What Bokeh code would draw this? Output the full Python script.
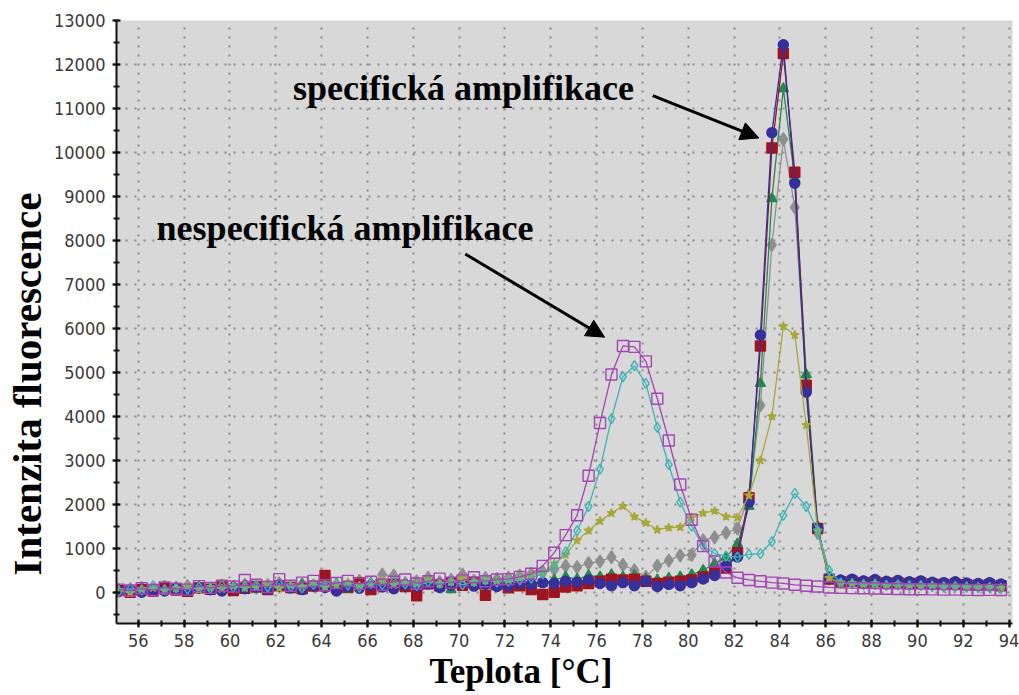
from bokeh.plotting import figure
from bokeh.models import Range1d, SingleIntervalTicker, Label, Arrow, NormalHead, Title
from bokeh.embed import file_html
from bokeh.resources import INLINE

# Melting-curve samples (temperature, °C)
temps = [
    55.15, 55.65, 56.15, 56.65, 57.15, 57.65, 58.15, 58.65, 59.15, 59.65,
    60.15, 60.65, 61.15, 61.65, 62.15, 62.65, 63.15, 63.65, 64.15, 64.65,
    65.15, 65.65, 66.15, 66.65, 67.15, 67.65, 68.15, 68.65, 69.15, 69.65,
    70.15, 70.65, 71.15, 71.65, 72.15, 72.65, 73.15, 73.65, 74.15, 74.65,
    75.15, 75.65, 76.15, 76.65, 77.15, 77.65, 78.15, 78.65, 79.15, 79.65,
    80.15, 80.65, 81.15, 81.65, 82.15, 82.65, 83.15, 83.65, 84.15, 84.65,
    85.15, 85.65, 86.15, 86.65, 87.15, 87.65, 88.15, 88.65, 89.15, 89.65,
    90.15, 90.65, 91.15, 91.65, 92.15, 92.65, 93.15, 93.65,
]

# Fluorescence per sample (-dF/dT)
purple = [
    60, 40, 90, 50, 110, 80, 60, 140, 100, 150,
    130, 280, 170, 120, 300, 150, 220, 260, 160, 210,
    260, 190, 240, 170, 240, 290, 200, 250, 310, 220,
    270, 340, 250, 290, 300, 350, 420, 600, 900, 1300,
    1750, 2650, 3850, 4950, 5600, 5580, 5250, 4400, 3450, 2450,
    1650, 1050, 700, 450, 330, 280, 250, 220, 200, 170,
    150, 130, 110, 100, 95, 90, 85, 80, 75, 70,
    70, 65, 60, 60, 55, 50, 55, 50,
]
cyan = [
    20, 80, 50, 150, 60, 100, 70, 120, 90, 160,
    110, 140, 170, 120, 190, 130, 100, 180, 150, 210,
    160, 110, 200, 170, 240, 190, 150, 230, 200, 260,
    170, 240, 280, 230, 250, 280, 320, 420, 600, 920,
    1400, 1950, 2800, 3950, 4900, 5150, 4750, 3750, 2900, 2050,
    1500, 1050, 880, 820, 800, 860, 880, 1150, 1750, 2250,
    1950, 1400, 500, 210, 190, 170, 180, 150, 160, 140,
    150, 130, 120, 130, 110, 100, 110, 90,
]
olive = [
    50, -20, 70, 100, 40, 90, 130, 60, 110, 80,
    150, 100, 120, 190, 90, 160, 130, 200, 110, 170,
    230, 150, 190, 260, 170, 220, 200, 280, 190, 240,
    300, 230, 270, 260, 280, 320, 380, 450, 650, 850,
    1180, 1400, 1620, 1800, 1960, 1720, 1580, 1420, 1470, 1480,
    1700, 1800, 1850, 1720, 1700, 2200, 3000, 4000, 6050, 5850,
    3800, 1400, 320, 220, 210, 190, 200, 170, 180, 160,
    150, 160, 140, 130, 140, 120, 110, 100,
]
gray = [
    30, 70, 100, 60, 120, 90, 140, 110, 80, 150,
    120, 170, 100, 160, 200, 130, 180, 150, 230, 170,
    140, 260, 190, 400, 380, 210, 250, 330, 230, 280,
    400, 260, 320, 300, 330, 380, 420, 470, 520, 600,
    570, 660, 700, 800, 620, 500, 350, 600, 720, 840,
    850, 1180, 1250, 1350, 1450, 2200, 4250, 7900, 10300, 8750,
    4800, 1350, 300, 240, 260, 220, 240, 210, 230, 200,
    210, 190, 180, 190, 170, 160, 150, 140,
]
green = [
    60, 20, 90, 40, 70, 110, 50, 130, 90, 60,
    140, 100, 70, 150, 120, 90, 170, 130, 100, 180,
    60, 150, 200, 140, 110, 190, 160, 210, 130, 60,
    220, 180, 150, 240, 200, 150, 250, 200, 280, 350,
    300, 380, 350, 400, 350, 380, 300, 280, 320, 350,
    400, 500, 650, 800, 1100, 1950, 4750, 8950, 11450, 9400,
    4950, 1500, 330, 260, 270, 240, 250, 220, 240, 210,
    220, 200, 190, 200, 180, 170, 180, 160,
]
red = [
    40, 0, 60, 30, 90, 50, 20, 100, 70, 120,
    40, 90, 130, 60, 150, 110, 80, 140, 380, 100,
    120, 210, 60, 150, 180, 130, -80, 190, 150, 210,
    160, 230, -70, 180, 100, 150, 60, -50, 0, 120,
    150, 200, 250, 300, 280, 300, 250, 200, 230, 250,
    280, 350, 450, 550, 900, 2150, 5600, 10100, 12250, 9550,
    4700, 1450, 300, 240, 250, 220, 240, 210, 220, 200,
    210, 190, 180, 190, 170, 160, 170, 150,
]
blue = [
    20, 50, 0, 60, 30, 80, 40, 100, 60, 30,
    110, 80, 120, 70, 140, 100, 60, 150, 110, 30,
    130, 90, 160, 120, 80, 170, 140, 190, 110, 160,
    200, 140, 180, 130, 150, 200, 180, 220, 200, 250,
    230, 280, 200, 150, 220, 150, 250, 130, 180, 150,
    220, 300, 380, 600, 800, 2050, 5850, 10450, 12450, 9300,
    4550, 1450, 320, 280, 300, 260, 290, 250, 270, 240,
    260, 230, 220, 240, 210, 200, 220, 190,
]

x_ticks_step = 2
y_ticks_step = 1000

p = figure(
    width=1019, height=695,
    output_backend="svg", toolbar_location=None,
    x_range=Range1d(55.05, 94.15), y_range=Range1d(-710, 13000),
    min_border_left=112, min_border_right=7,
    min_border_top=20, min_border_bottom=72,
)
p.background_fill_color = "#d8d8d8"
p.border_fill_color = "white"
p.outline_line_color = None

p.xaxis.ticker = SingleIntervalTicker(interval=x_ticks_step, num_minor_ticks=2)
p.yaxis.ticker = SingleIntervalTicker(interval=y_ticks_step, num_minor_ticks=2)
p.xgrid.ticker = p.xaxis.ticker
p.ygrid.ticker = p.yaxis.ticker

for ax in (p.xaxis, p.yaxis):
    ax.axis_line_color = "#111111"
    ax.axis_line_width = 2
    ax.major_tick_line_color = "#111111"
    ax.major_tick_line_width = 2
    ax.major_tick_in = 4
    ax.major_tick_out = 4
    ax.minor_tick_line_color = "#111111"
    ax.minor_tick_line_width = 2
    ax.minor_tick_in = 3
    ax.minor_tick_out = 3
    ax.major_label_text_font = "Liberation Sans Narrow, DejaVu Sans Condensed, Roboto, sans-serif"
    ax.major_label_text_font_size = "18px"
    ax.major_label_text_color = "#3a3a3a"
p.yaxis.major_label_standoff = 7
p.xaxis.major_label_standoff = 6

for g in (p.xgrid, p.ygrid):
    g.grid_line_color = "#8a8a8a"
    g.grid_line_width = 2
    g.grid_line_dash = "2 7"

series = [
    (gray, "#8f8f8f", "diamond", 13, "#8f8f8f"),
    (green, "#1f8a4c", "triangle", 10, "#1f8a4c"),
    (red, "#9e1420", "square", 10, "#9e1420"),
    (blue, "#35309a", "circle", 10, "#35309a"),
    (olive, "#a8a83a", "star", 9, "#a8a83a"),
    (cyan, "#3db5b2", "diamond", 10, None),
    (purple, "#a445b4", "square", 11, None),
]
for vals, col, mk, sz, fill in series:
    p.line(temps, vals, line_color=col, line_width=1.3)
    p.scatter(temps, vals, marker=mk, size=sz, line_color=col, line_width=1.4,
              fill_color=fill if fill else "#d8d8d8",
              fill_alpha=1.0 if fill else 0.0)

serif = "Liberation Serif, Times New Roman, serif"

p.add_layout(Label(x=62.75, y=11470, text="specifická amplifikace",
                   text_font=serif, text_font_style="bold", text_font_size="36px",
                   text_color="#000000", text_baseline="middle", text_align="left"))
p.add_layout(Label(x=56.8, y=8280, text="nespecifická amplifikace",
                   text_font=serif, text_font_style="bold", text_font_size="36px",
                   text_color="#000000", text_baseline="middle", text_align="left"))

p.add_layout(Arrow(end=NormalHead(size=18, fill_color="black", line_color="black"),
                   x_start=78.45, y_start=11290, x_end=83.08, y_end=10330,
                   line_width=3, line_color="black"))
p.add_layout(Arrow(end=NormalHead(size=18, fill_color="black", line_color="black"),
                   x_start=70.27, y_start=7690, x_end=76.35, y_end=5800,
                   line_width=3, line_color="black"))

# Axis titles as side titles, shifted along their edge
p.add_layout(Title(text="Intenzita fluorescence", align="left", offset=48,
                   text_font=serif, text_font_style="bold", text_font_size="41px",
                   text_color="#000000", standoff=2), "left")
p.add_layout(Title(text="Teplota [°C]", align="left", offset=313,
                   text_font=serif, text_font_style="bold", text_font_size="35px",
                   text_color="#000000", standoff=0), "below")

open("out.html", "w").write(file_html(p, INLINE))
